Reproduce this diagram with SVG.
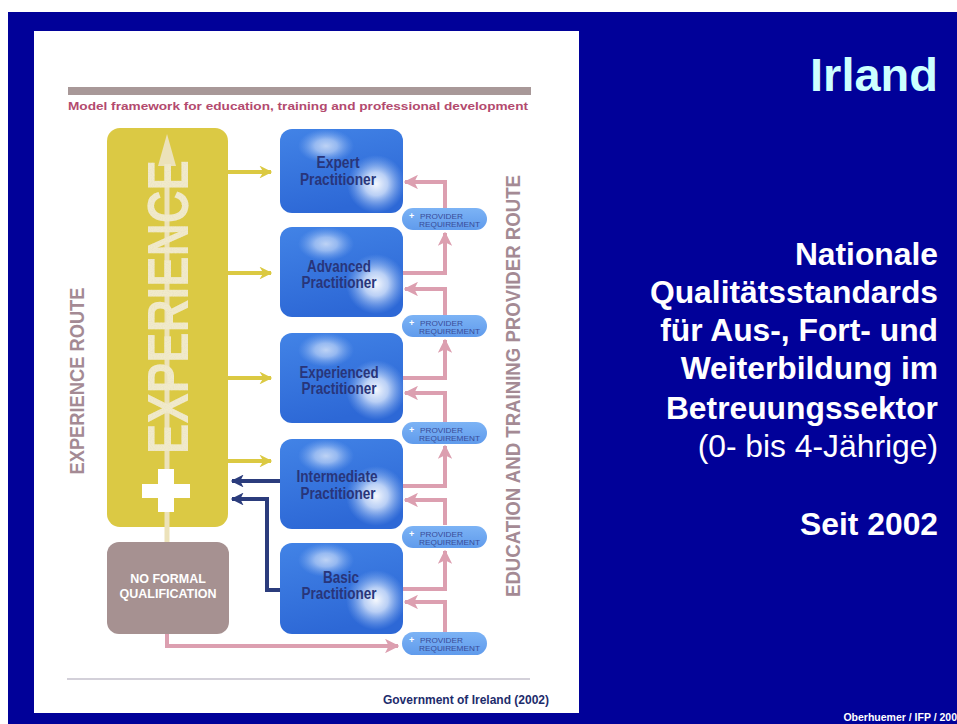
<svg xmlns="http://www.w3.org/2000/svg" width="957" height="724" viewBox="0 0 957 724">
  <style>
    .tile { fill: url(#tileFill); }
    .glow { fill: url(#glowFill); }
    .glowSoft { fill: url(#glowFill); opacity: 0.7; }
    .lvl { font-family: "Liberation Sans", Arial, sans-serif; font-size: 16px; font-weight: bold; fill: #28357a; text-anchor: middle; }
    .pill { fill: url(#pillFill); }
    .pilltxt { font-family: "Liberation Sans", Arial, sans-serif; font-size: 7.5px; fill: #3a4c98; }
    .plus { font-family: "Liberation Sans", Arial, sans-serif; font-size: 9px; font-weight: bold; fill: #ffffff; }
    .pink { fill: none; stroke: #dc9fb0; stroke-width: 4; }
    .navy { fill: none; stroke: #2b3c7c; stroke-width: 4; }
    .gold { fill: none; stroke: #dbc942; stroke-width: 4; }
    .route { font-family: "Liberation Sans", Arial, sans-serif; font-weight: bold; fill: #a48a94; text-anchor: middle; }
    .side { font-family: "Liberation Sans", Arial, sans-serif; fill: #ffffff; text-anchor: end; }
  </style>
  <defs>
    <linearGradient id="tileFill" x1="0" y1="0" x2="0.3" y2="1">
      <stop offset="0" stop-color="#4283e6"/>
      <stop offset="1" stop-color="#2d68d6"/>
    </linearGradient>
    <radialGradient id="glowFill">
      <stop offset="0" stop-color="#ffffff" stop-opacity="0.95"/>
      <stop offset="0.4" stop-color="#e8f1ff" stop-opacity="0.75"/>
      <stop offset="1" stop-color="#9cc0f5" stop-opacity="0"/>
    </radialGradient>
    <linearGradient id="pillFill" x1="0" y1="0" x2="0" y2="1">
      <stop offset="0" stop-color="#7cb3f5"/>
      <stop offset="1" stop-color="#609bec"/>
    </linearGradient>
    <!-- speckled surface for the large experience lettering -->
    <filter id="speckle" x="0" y="0" width="100%" height="100%">
      <feTurbulence type="fractalNoise" baseFrequency="0.9" numOctaves="1" seed="3" result="noise"/>
      <feColorMatrix in="noise" type="matrix" values="0 0 0 0 0.82  0 0 0 0 0.76  0 0 0 0 0.55  0 0 0 -2.2 1.25" result="dots"/>
      <feComposite in="dots" in2="SourceGraphic" operator="in" result="clipped"/>
      <feMerge><feMergeNode in="SourceGraphic"/><feMergeNode in="clipped"/></feMerge>
    </filter>
    <marker id="pinkHead" viewBox="0 0 10 10" refX="9" refY="5" markerWidth="3.6" markerHeight="3.6" orient="auto" markerUnits="strokeWidth">
      <path d="M0,0 L10,5 L0,10 L2.5,5 Z" fill="#dc9fb0"/>
    </marker>
    <marker id="navyHead" viewBox="0 0 10 10" refX="9" refY="5" markerWidth="3.6" markerHeight="3.2" orient="auto" markerUnits="strokeWidth">
      <path d="M0,0 L10,5 L0,10 L2.5,5 Z" fill="#2b3c7c"/>
    </marker>
    <marker id="goldHead" viewBox="0 0 10 10" refX="9" refY="5" markerWidth="4" markerHeight="3.2" orient="auto" markerUnits="strokeWidth">
      <path d="M0,0 L10,5 L0,10 L3,5 Z" fill="#dbc942"/>
    </marker>
  </defs>

  <!-- slide background -->
  <rect x="0" y="0" width="957" height="724" fill="#ffffff"/>
  <rect x="8" y="12" width="949" height="712" fill="#010199"/>
  <rect x="34" y="31" width="545" height="682" fill="#ffffff"/>

  <!-- header -->
  <rect x="68" y="87" width="463" height="8" fill="#a89898"/>
  <text x="68" y="110" font-family="Liberation Sans, Arial, sans-serif" font-size="11.5" font-weight="bold" fill="#b34a6e" textLength="460" lengthAdjust="spacingAndGlyphs">Model framework for education, training and professional development</text>

  <!-- route labels -->
  <text class="route" transform="translate(84,381) rotate(-90)" font-size="21" textLength="187" lengthAdjust="spacingAndGlyphs">EXPERIENCE ROUTE</text>
  <text class="route" transform="translate(520,386) rotate(-90)" font-size="20" textLength="422" lengthAdjust="spacingAndGlyphs">EDUCATION AND TRAINING PROVIDER ROUTE</text>

  <!-- connectors -->
  <g id="connectors">
    <!-- experience route into each level -->
    <path class="gold" d="M228,172 H271" marker-end="url(#goldHead)"/>
    <path class="gold" d="M228,273 H271" marker-end="url(#goldHead)"/>
    <path class="gold" d="M228,378 H271" marker-end="url(#goldHead)"/>
    <path class="gold" d="M228,461 H271" marker-end="url(#goldHead)"/>
    <!-- lower levels feed back into experience -->
    <path class="navy" d="M281,481 H232" marker-end="url(#navyHead)"/>
    <path class="navy" d="M281,590 H267 V499 H232" marker-end="url(#navyHead)"/>
    <!-- provider route: level -> provider requirement -> next level -->
    <path class="pink" d="M445,208 V182 H405" marker-end="url(#pinkHead)"/>
    <path class="pink" d="M403,273 H445 V233" marker-end="url(#pinkHead)"/>
    <path class="pink" d="M445,315 V289 H405" marker-end="url(#pinkHead)"/>
    <path class="pink" d="M403,378 H445 V340" marker-end="url(#pinkHead)"/>
    <path class="pink" d="M445,422 V393 H405" marker-end="url(#pinkHead)"/>
    <path class="pink" d="M403,486 H445 V446" marker-end="url(#pinkHead)"/>
    <path class="pink" d="M445,525 V500 H405" marker-end="url(#pinkHead)"/>
    <path class="pink" d="M403,589 H445 V551" marker-end="url(#pinkHead)"/>
    <path class="pink" d="M445,632 V602 H405" marker-end="url(#pinkHead)"/>
    <path class="pink" d="M167,634 V646 H398" marker-end="url(#pinkHead)"/>
  </g>

  <!-- experience column -->
  <g id="experience">
    <rect x="107" y="128" width="121" height="399" rx="13" fill="#dbc944"/>
    <rect x="164.5" y="160" width="5" height="382" fill="#ece2ba"/>
    <path d="M167,134 L176,166 L158,166 Z" fill="#ece2ba"/>
    <text transform="translate(188,307) rotate(-90)" font-family="Liberation Sans, Arial, sans-serif" font-size="57" font-weight="bold" fill="#f1eacb" text-anchor="middle" textLength="294" lengthAdjust="spacingAndGlyphs" filter="url(#speckle)">EXPERIENCE</text>
    <rect x="142" y="484" width="48" height="14" fill="#ffffff"/>
    <rect x="158" y="469" width="16" height="43" fill="#ffffff"/>
  </g>

  <g id="no-formal">
    <rect x="107" y="542" width="122" height="92" rx="12" fill="#a69191"/>
    <text x="168" y="583" font-family="Liberation Sans, Arial, sans-serif" font-size="12.5" font-weight="bold" fill="#ffffff" text-anchor="middle">NO FORMAL</text>
    <text x="168" y="598" font-family="Liberation Sans, Arial, sans-serif" font-size="12.5" font-weight="bold" fill="#ffffff" text-anchor="middle">QUALIFICATION</text>
  </g>

  <!-- practitioner levels -->
  <g id="expert">
    <rect class="tile" x="280" y="129" width="123" height="84" rx="12"/>
    <ellipse class="glowSoft" cx="326" cy="146" rx="28" ry="17"/>
    <circle class="glow" cx="376" cy="184" r="29"/>
    <text class="lvl" x="338" y="168" textLength="43" lengthAdjust="spacingAndGlyphs">Expert</text>
    <text class="lvl" x="338" y="185" textLength="76" lengthAdjust="spacingAndGlyphs">Practitioner</text>
  </g>
  <g id="advanced">
    <rect class="tile" x="280" y="227" width="123" height="90" rx="12"/>
    <ellipse class="glowSoft" cx="326" cy="244" rx="28" ry="17"/>
    <circle class="glow" cx="376" cy="284" r="30"/>
    <text class="lvl" x="339" y="272" textLength="64" lengthAdjust="spacingAndGlyphs">Advanced</text>
    <text class="lvl" x="339" y="288" textLength="75" lengthAdjust="spacingAndGlyphs">Practitioner</text>
  </g>
  <g id="experienced">
    <rect class="tile" x="280" y="333" width="123" height="90" rx="12"/>
    <ellipse class="glowSoft" cx="326" cy="350" rx="28" ry="17"/>
    <circle class="glow" cx="376" cy="390" r="30"/>
    <text class="lvl" x="339" y="378" textLength="79" lengthAdjust="spacingAndGlyphs">Experienced</text>
    <text class="lvl" x="339" y="394" textLength="75" lengthAdjust="spacingAndGlyphs">Practitioner</text>
  </g>
  <g id="intermediate">
    <rect class="tile" x="280" y="439" width="123" height="90" rx="12"/>
    <ellipse class="glowSoft" cx="326" cy="456" rx="28" ry="17"/>
    <circle class="glow" cx="376" cy="496" r="30"/>
    <text class="lvl" x="337" y="482" textLength="81" lengthAdjust="spacingAndGlyphs">Intermediate</text>
    <text class="lvl" x="338" y="499" textLength="75" lengthAdjust="spacingAndGlyphs">Practitioner</text>
  </g>
  <g id="basic">
    <rect class="tile" x="280" y="543" width="123" height="91" rx="12"/>
    <ellipse class="glowSoft" cx="326" cy="560" rx="28" ry="17"/>
    <circle class="glow" cx="376" cy="600" r="30"/>
    <text class="lvl" x="341" y="583" textLength="36" lengthAdjust="spacingAndGlyphs">Basic</text>
    <text class="lvl" x="339" y="599" textLength="75" lengthAdjust="spacingAndGlyphs">Practitioner</text>
  </g>

  <!-- provider requirement steps -->
  <g id="provider-1">
    <rect class="pill" x="402" y="208" width="85" height="22" rx="11"/>
    <text class="plus" x="409" y="219">+</text>
    <text class="pilltxt" x="420" y="219" textLength="43" lengthAdjust="spacingAndGlyphs">PROVIDER</text>
    <text class="pilltxt" x="419" y="226.5" textLength="61" lengthAdjust="spacingAndGlyphs">REQUIREMENT</text>
  </g>
  <g id="provider-2">
    <rect class="pill" x="402" y="315" width="85" height="22" rx="11"/>
    <text class="plus" x="409" y="326">+</text>
    <text class="pilltxt" x="420" y="326" textLength="43" lengthAdjust="spacingAndGlyphs">PROVIDER</text>
    <text class="pilltxt" x="419" y="333.5" textLength="61" lengthAdjust="spacingAndGlyphs">REQUIREMENT</text>
  </g>
  <g id="provider-3">
    <rect class="pill" x="402" y="422" width="85" height="22" rx="11"/>
    <text class="plus" x="409" y="433">+</text>
    <text class="pilltxt" x="420" y="433" textLength="43" lengthAdjust="spacingAndGlyphs">PROVIDER</text>
    <text class="pilltxt" x="419" y="440.5" textLength="61" lengthAdjust="spacingAndGlyphs">REQUIREMENT</text>
  </g>
  <g id="provider-4">
    <rect class="pill" x="402" y="526" width="85" height="22" rx="11"/>
    <text class="plus" x="409" y="537">+</text>
    <text class="pilltxt" x="420" y="537" textLength="43" lengthAdjust="spacingAndGlyphs">PROVIDER</text>
    <text class="pilltxt" x="419" y="544.5" textLength="61" lengthAdjust="spacingAndGlyphs">REQUIREMENT</text>
  </g>
  <g id="provider-5">
    <rect class="pill" x="402" y="632" width="85" height="23" rx="11.5"/>
    <text class="plus" x="409" y="643">+</text>
    <text class="pilltxt" x="420" y="643" textLength="43" lengthAdjust="spacingAndGlyphs">PROVIDER</text>
    <text class="pilltxt" x="419" y="650.5" textLength="61" lengthAdjust="spacingAndGlyphs">REQUIREMENT</text>
  </g>

  <!-- footer of the framework panel -->
  <line x1="67" y1="679" x2="530" y2="679" stroke="#c4c0cc" stroke-width="1.5"/>
  <text x="549" y="704" font-family="Liberation Sans, Arial, sans-serif" font-size="12" font-weight="bold" fill="#1d2c6c" text-anchor="end">Government of Ireland (2002)</text>

  <!-- slide text -->
  <text x="938" y="91" font-family="Liberation Sans, Arial, sans-serif" font-size="47" font-weight="bold" fill="#ccffff" text-anchor="end">Irland</text>
  <g class="side" font-size="31.8" font-weight="bold">
    <text x="938" y="265">Nationale</text>
    <text x="938" y="303">Qualitätsstandards</text>
    <text x="938" y="341">für Aus-, Fort- und</text>
    <text x="938" y="379">Weiterbildung im</text>
    <text x="938" y="419">Betreuungssektor</text>
  </g>
  <text class="side" x="938" y="457" font-size="31.8">(0- bis 4-Jährige)</text>
  <text class="side" x="938" y="535" font-size="31.8" font-weight="bold">Seit 2002</text>
  <text class="side" x="957" y="721" font-size="10.5" font-weight="bold">Oberhuemer / IFP / 200</text>
</svg>
